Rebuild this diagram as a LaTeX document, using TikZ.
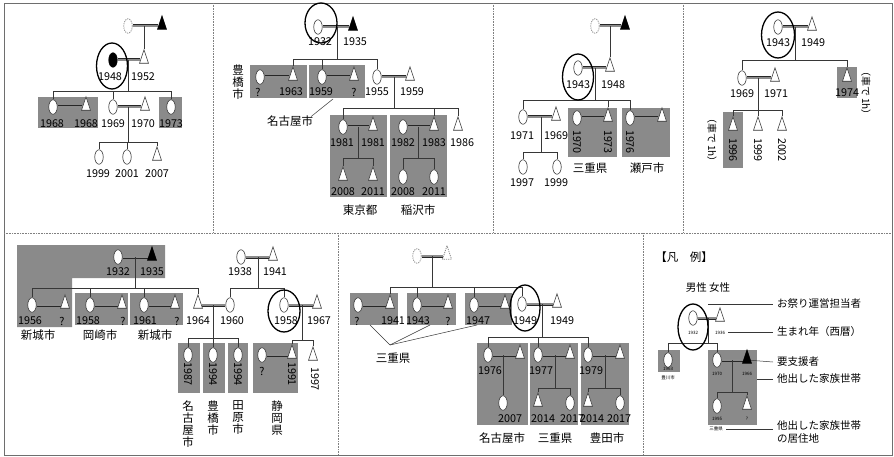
\documentclass[tikz,border=0pt]{standalone}
\usepackage{fontspec}
\setmainfont{Noto Sans CJK JP}
\usetikzlibrary{shapes.geometric}
\pgfdeclarelayer{boxlayer}
\pgfdeclarelayer{linelayer}
\pgfsetlayers{boxlayer,linelayer,main}
\definecolor{boxc}{RGB}{138,138,138}
\definecolor{linec}{RGB}{55,55,55}
\definecolor{framec}{RGB}{110,110,110}
\begin{document}
\begin{tikzpicture}[x=1pt,y=-1pt,
 fem/.style={ellipse,draw=linec,fill=white,line width=0.6pt,minimum width=8.5pt,minimum height=14.5pt,inner sep=0pt},
 femf/.style={fem,fill=black,draw=black},
 femd/.style={fem,draw=gray!90,dash pattern=on 1.2pt off 1pt,line width=0.8pt},
 mal/.style={isosceles triangle,shape border rotate=90,isosceles triangle stretches,minimum width=9pt,minimum height=13.5pt,inner sep=0pt,draw=linec,fill=white,line width=0.6pt},
 malf/.style={mal,fill=black,draw=black},
 mald/.style={mal,draw=gray!90,dash pattern=on 1.2pt off 1pt,line width=0.8pt},
 keyc/.style={ellipse,draw=black,line width=1.3pt,inner sep=0pt},
 yr/.style={font=\fontsize{10.8}{10.8}\selectfont,inner sep=0pt},
 ryr/.style={yr,rotate=-90},
 place/.style={font=\fontsize{11.5}{12}\selectfont,inner sep=0pt,align=center},
 tiny/.style={font=\fontsize{4.5}{5}\selectfont,inner sep=0pt},
 leg/.style={font=\fontsize{10.5}{12.5}\selectfont,inner sep=0pt,anchor=west,align=left},
 mar/.style={draw=black!85,line width=0.6pt,double=black!45,double distance=1.8pt},
 desc/.style={draw=linec,line width=0.6pt},
 ptr/.style={draw=linec,line width=0.5pt},
 divider/.style={draw=gray,densely dotted,line width=0.6pt}
]
\useasboundingbox (0,0) rectangle (894,457);

% ---------- background and gray boxes ----------
\begin{pgfonlayer}{boxlayer}
\fill[white] (0,0) rectangle (894,457);
\fill[boxc] (38,97) rectangle (98,128);
\fill[boxc] (159,97) rectangle (182,128);
\fill[boxc] (250,65) rectangle (307,98);
\fill[boxc] (309,65) rectangle (365,98);
\fill[boxc] (330,115) rectangle (387,197);
\fill[boxc] (390,115) rectangle (447,197);
\fill[boxc] (568,108) rectangle (617,157);
\fill[boxc] (622,108) rectangle (670,157);
\fill[boxc] (837,67) rectangle (857,98);
\fill[boxc] (723,112) rectangle (743,168);
\fill[boxc] (17,245) -- (165,245) -- (165,278) -- (72,278) -- (72,327) -- (17,327) -- cycle;
\fill[boxc] (75,293) rectangle (128,325);
\fill[boxc] (130,293) rectangle (183,325);
\fill[boxc] (253,343) rectangle (298,393);
\fill[boxc] (178,343) rectangle (200,393);
\fill[boxc] (203,343) rectangle (225,393);
\fill[boxc] (228,343) rectangle (248,393);
\fill[boxc] (350,293) rectangle (398,325);
\fill[boxc] (407,293) rectangle (456,325);
\fill[boxc] (465,293) rectangle (512,325);
\fill[boxc] (477,343) rectangle (528,425);
\fill[boxc] (530,343) rectangle (578,425);
\fill[boxc] (581,343) rectangle (629,425);
\fill[boxc] (658,350) rectangle (680,372);
\fill[boxc] (708,350) rectangle (757,425);
\end{pgfonlayer}

% frame and dividers
\draw[framec,line width=0.8pt] (4,3) rectangle (892,455);
\draw[divider] (213,3) -- (213,233);
\draw[divider] (493,3) -- (493,233);
\draw[divider] (683,3) -- (683,233);
\draw[divider] (4,233) -- (892,233);
\draw[divider] (338,233) -- (338,455);
\draw[divider] (643,233) -- (643,455);

% ================= Panel 1 =================
\node[femd] (p1gf) at (128,26) {};
\node[malf] (p1gm) at (162,26) {};
\node[femf] (p1a) at (113,60) {};
\node[mal] (p1b) at (144,60) {};
\node[keyc,minimum width=31pt,minimum height=46pt] (p1k) at (112,66) {};
\node[yr] (y1a) at (110,77) {1948};
\node[yr] (y1b) at (143,77) {1952};
\node[fem] (p1c1) at (53,107) {};
\node[mal] (p1c1h) at (86,107) {};
\node[fem] (p1c2) at (113,107) {};
\node[mal] (p1c2h) at (145,107) {};
\node[fem] (p1c3) at (171,107) {};
\node[yr] (y1c) at (52,124) {1968};
\node[yr] (y1d) at (86,124) {1968};
\node[yr] (y1e) at (113,124) {1969};
\node[yr] (y1f) at (143,124) {1970};
\node[yr] (y1g) at (171,124) {1973};
\node[fem] (p1d1) at (99,157) {};
\node[fem] (p1d2) at (127,157) {};
\node[mal] (p1d3) at (157,157) {};
\node[yr] (y1h) at (98,174) {1999};
\node[yr] (y1i) at (127,174) {2001};
\node[yr] (y1j) at (157,174) {2007};
\begin{pgfonlayer}{linelayer}
\draw[mar] (p1gf) -- (p1gm);
\coordinate (p1gx) at (144,26);
\draw[desc] (p1gx) -- (p1b);
\draw[mar] (p1a) -- (p1b);
\coordinate (p1m) at (128,60); \coordinate (p1s) at (128,91);
\draw[desc] (p1m) -- (p1s);
\draw[desc] (p1c1) |- (p1s); \draw[desc] (p1c2) |- (p1s); \draw[desc] (p1c3) |- (p1s);
\draw[mar] (p1c1) -- (p1c1h);
\draw[mar] (p1c2) -- (p1c2h);
\coordinate (p1m2) at (128,107); \coordinate (p1s2) at (128,142);
\draw[desc] (p1m2) -- (p1s2);
\draw[desc] (p1d1) |- (p1s2); \draw[desc] (p1d2) |- (p1s2); \draw[desc] (p1d3) |- (p1s2);
\end{pgfonlayer}

% ================= Panel 2 =================
\node[fem] (p2a) at (318,27) {};
\node[malf] (p2b) at (353,27) {};
\node[keyc,minimum width=32pt,minimum height=40pt] (p2k) at (321,23) {};
\node[yr] (y2a) at (320,42) {1932};
\node[yr] (y2b) at (355,42) {1935};
\node[fem] (p2c1w) at (260,77) {};
\node[mal] (p2c1) at (293,77) {};
\node[fem] (p2c2) at (322,77) {};
\node[mal] (p2c2h) at (354,77) {};
\node[fem] (p2c3) at (377,77) {};
\node[mal] (p2c3h) at (410,77) {};
\node[yr] (y2c) at (258,92) {?};
\node[yr] (y2d) at (291,92) {1963};
\node[yr] (y2e) at (321,92) {1959};
\node[yr] (y2f) at (354,92) {?};
\node[yr] (y2g) at (377,92) {1955};
\node[yr] (y2h) at (412,92) {1959};
\node[place] (t2a) at (238,82) {豊\\橋\\市};
\node[place] (t2b) at (290,121) {名古屋市};
\coordinate (t2bp) at (333,99);
\node[fem] (p2d1) at (343,127) {};
\node[mal] (p2d1h) at (373,127) {};
\node[fem] (p2d2w) at (403,127) {};
\node[mal] (p2d2) at (434,127) {};
\node[mal] (p2d3) at (458,127) {};
\node[yr] (y2i) at (342,143) {1981};
\node[yr] (y2j) at (373,143) {1981};
\node[yr] (y2k) at (403,143) {1982};
\node[yr] (y2l) at (434,143) {1983};
\node[yr] (y2m) at (462,143) {1986};
\node[mal] (p2e1) at (343,177) {};
\node[mal] (p2e2) at (373,177) {};
\node[fem] (p2e3) at (403,177) {};
\node[fem] (p2e4) at (434,177) {};
\node[yr] (y2n) at (343,192) {2008};
\node[yr] (y2o) at (373,192) {2011};
\node[yr] (y2p) at (403,192) {2008};
\node[yr] (y2q) at (434,192) {2011};
\node[place] (t2c) at (360,210) {東京都};
\node[place] (t2d) at (418,210) {稲沢市};
\begin{pgfonlayer}{linelayer}
\draw[mar] (p2a) -- (p2b);
\coordinate (p2m) at (337,27); \coordinate (p2s) at (337,59);
\draw[desc] (p2m) -- (p2s);
\draw[desc] (p2c1) |- (p2s); \draw[desc] (p2c2) |- (p2s); \draw[desc] (p2c3) |- (p2s);
\draw[mar] (p2c1w) -- (p2c1);
\draw[mar] (p2c2) -- (p2c2h);
\draw[mar] (p2c3) -- (p2c3h);
\draw[ptr] (t2b.north east) ++(-2,1) -- (t2bp);
\coordinate (p2m3) at (394,77); \coordinate (p2s3) at (394,108);
\draw[desc] (p2m3) -- (p2s3);
\draw[desc] (p2d1) |- (p2s3); \draw[desc] (p2d2) |- (p2s3); \draw[desc] (p2d3) |- (p2s3);
\draw[mar] (p2d1) -- (p2d1h);
\draw[mar] (p2d2w) -- (p2d2);
\coordinate (p2m4) at (358,127); \coordinate (p2s4) at (358,158);
\draw[desc] (p2m4) -- (p2s4);
\draw[desc] (p2e1) |- (p2s4); \draw[desc] (p2e2) |- (p2s4);
\coordinate (p2m5) at (418,127); \coordinate (p2s5) at (418,158);
\draw[desc] (p2m5) -- (p2s5);
\draw[desc] (p2e3) |- (p2s5); \draw[desc] (p2e4) |- (p2s5);
\end{pgfonlayer}

% ================= Panel 3 =================
\node[femd] (p3gf) at (595,26) {};
\node[malf] (p3gm) at (625,26) {};
\node[fem] (p3a) at (578,68) {};
\node[mal] (p3b) at (610,68) {};
\node[keyc,minimum width=31pt,minimum height=46pt] (p3k) at (578,77) {};
\node[yr] (y3a) at (578,85) {1943};
\node[yr] (y3b) at (613,85) {1948};
\node[fem] (p3c1) at (523,117) {};
\node[mal] (p3c1h) at (556,117) {};
\node[fem] (p3c2w) at (577,118) {};
\node[mal] (p3c2) at (608,118) {};
\node[fem] (p3c3) at (630,118) {};
\node[mal] (p3c3h) at (662,118) {};
\node[yr] (y3c) at (522,136) {1971};
\node[yr] (y3d) at (556,136) {1969};
\node[ryr] (y3e) at (577,142) {1970};
\node[ryr] (y3f) at (608,142) {1973};
\node[ryr] (y3g) at (630,142) {1976};
\node[fem] (p3d1) at (523,167) {};
\node[fem] (p3d2) at (557,167) {};
\node[yr] (y3h) at (522,183) {1997};
\node[yr] (y3i) at (556,183) {1999};
\node[place] (t3a) at (590,168) {三重県};
\node[place] (t3b) at (647,168) {瀬戸市};
\begin{pgfonlayer}{linelayer}
\draw[mar] (p3gf) -- (p3gm);
\coordinate (p3gx) at (610,26);
\draw[desc] (p3gx) -- (p3b);
\draw[mar] (p3a) -- (p3b);
\coordinate (p3m) at (595,68); \coordinate (p3s) at (595,100);
\draw[desc] (p3m) -- (p3s);
\draw[desc] (p3c1) |- (p3s); \draw[desc] (p3c2) |- (p3s); \draw[desc] (p3c3) |- (p3s);
\draw[mar] (p3c1) -- (p3c1h);
\draw[mar] (p3c2w) -- (p3c2);
\draw[mar] (p3c3) -- (p3c3h);
\coordinate (p3m1) at (541,117); \coordinate (p3s1) at (541,152);
\draw[desc] (p3m1) -- (p3s1);
\draw[desc] (p3d1) |- (p3s1); \draw[desc] (p3d2) |- (p3s1);
\end{pgfonlayer}

% ================= Panel 4 =================
\node[fem] (p4a) at (778,27) {};
\node[mal] (p4b) at (812,27) {};
\node[keyc,minimum width=33pt,minimum height=46pt] (p4k) at (778,35) {};
\node[yr] (y4a) at (778,43) {1943};
\node[yr] (y4b) at (813,43) {1949};
\node[fem] (p4c1) at (742,78) {};
\node[mal] (p4c1h) at (775,78) {};
\node[mal] (p4c2) at (847,78) {};
\node[yr] (y4c) at (742,94) {1969};
\node[yr] (y4d) at (776,94) {1971};
\node[yr] (y4e) at (847,93) {1974};
\node[place,rotate=-90,font=\fontsize{10}{10}\selectfont] (t4a) at (866,93) {（車で 1h）};
\node[mal] (p4d1) at (733,127) {};
\node[mal] (p4d2) at (758,127) {};
\node[mal] (p4d3) at (782,127) {};
\node[ryr] (y4f) at (733,150) {1996};
\node[ryr] (y4g) at (758,150) {1999};
\node[ryr] (y4h) at (782,150) {2002};
\node[place,rotate=-90,font=\fontsize{10}{10}\selectfont] (t4b) at (712,140) {（車で 1h）};
\begin{pgfonlayer}{linelayer}
\draw[mar] (p4a) -- (p4b);
\coordinate (p4m) at (795,27); \coordinate (p4s) at (795,60);
\draw[desc] (p4m) -- (p4s);
\draw[desc] (p4c1) |- (p4s); \draw[desc] (p4c2) |- (p4s);
\draw[mar] (p4c1) -- (p4c1h);
\coordinate (p4m1) at (758,78); \coordinate (p4s1) at (758,110);
\draw[desc] (p4m1) -- (p4s1);
\draw[desc] (p4d1) |- (p4s1); \draw[desc] (p4d2) |- (p4s1); \draw[desc] (p4d3) |- (p4s1);
\end{pgfonlayer}

% ================= Panel 5 (bottom left) =================
\node[fem] (p5a) at (118,257) {};
\node[malf] (p5b) at (152,257) {};
\node[yr] (y5a) at (118,272) {1932};
\node[yr] (y5b) at (152,272) {1935};
\node[fem] (p5pa) at (241,257) {};
\node[mal] (p5pb) at (273,257) {};
\node[yr] (y5c) at (240,272) {1938};
\node[yr] (y5d) at (275,272) {1941};
\node[fem] (p5c1) at (32,305) {};
\node[mal] (p5c1h) at (65,305) {};
\node[fem] (p5c2) at (90,305) {};
\node[mal] (p5c2h) at (122,305) {};
\node[fem] (p5c3) at (144,305) {};
\node[mal] (p5c3h) at (175,305) {};
\node[mal] (p5c4) at (198,305) {};
\node[fem] (p5c4w) at (230,305) {};
\node[fem] (p5e) at (284,305) {};
\node[mal] (p5eh) at (317,305) {};
\node[keyc,minimum width=32pt,minimum height=42pt] (p5k) at (284,311) {};
\node[yr] (y5e) at (30,321) {1956};
\node[yr] (y5f) at (62,321) {?};
\node[yr] (y5g) at (88,321) {1958};
\node[yr] (y5h) at (123,321) {?};
\node[yr] (y5i) at (145,321) {1961};
\node[yr] (y5j) at (177,321) {?};
\node[yr] (y5k) at (198,321) {1964};
\node[yr] (y5l) at (232,321) {1960};
\node[yr] (y5m) at (286,321) {1958};
\node[yr] (y5n) at (319,321) {1967};
\node[place] (t5a) at (38,335) {新城市};
\node[place] (t5b) at (100,335) {岡崎市};
\node[place] (t5c) at (155,335) {新城市};
\node[fem] (p5g1) at (188,355) {};
\node[fem] (p5g2) at (213,355) {};
\node[fem] (p5g3) at (238,355) {};
\node[ryr] (y5o) at (188,374) {1987};
\node[ryr] (y5p) at (213,374) {1994};
\node[ryr] (y5q) at (238,374) {1994};
\node[fem] (p5f1w) at (262,355) {};
\node[mal] (p5f1) at (292,355) {};
\node[mal] (p5f2) at (313,357) {};
\node[yr] (y5r) at (262,371) {?};
\node[ryr] (y5s) at (292,374) {1991};
\node[ryr] (y5t) at (315,379) {1997};
\node[place] (t5d) at (188,424) {名\\古\\屋\\市};
\node[place] (t5e) at (213,418) {豊\\橋\\市};
\node[place] (t5f) at (238,418) {田\\原\\市};
\node[place] (t5g) at (277,418) {静\\岡\\県};
\begin{pgfonlayer}{linelayer}
\draw[mar] (p5a) -- (p5b);
\draw[mar] (p5pa) -- (p5pb);
\coordinate (p5m) at (135,257); \coordinate (p5s) at (135,288);
\draw[desc] (p5m) -- (p5s);
\draw[desc] (p5c1) |- (p5s); \draw[desc] (p5c2) |- (p5s); \draw[desc] (p5c3) |- (p5s); \draw[desc] (p5c4) |- (p5s);
\coordinate (p5pm) at (258,257); \coordinate (p5ps) at (258,288);
\draw[desc] (p5pm) -- (p5ps);
\draw[desc] (p5c4w) |- (p5ps); \draw[desc] (p5e) |- (p5ps);
\draw[mar] (p5c1) -- (p5c1h);
\draw[mar] (p5c2) -- (p5c2h);
\draw[mar] (p5c3) -- (p5c3h);
\draw[mar] (p5c4) -- (p5c4w);
\draw[mar] (p5e) -- (p5eh);
\coordinate (p5cm) at (213,305); \coordinate (p5cs) at (213,338);
\draw[desc] (p5cm) -- (p5cs);
\draw[desc] (p5g1) |- (p5cs); \draw[desc] (p5g2) |- (p5cs); \draw[desc] (p5g3) |- (p5cs);
\coordinate (p5em) at (302,305); \coordinate (p5es) at (302,340);
\draw[desc] (p5em) -- (p5es);
\draw[desc] (p5f1) |- (p5es); \draw[desc] (p5f2) |- (p5es);
\draw[mar] (p5f1w) -- (p5f1);
\end{pgfonlayer}

% ================= Panel 6 (bottom middle) =================
\node[femd] (p6gf) at (417,256) {};
\node[mald] (p6gm) at (447,256) {};
\node[fem] (p6c1w) at (358,305) {};
\node[mal] (p6c1) at (390,305) {};
\node[fem] (p6c2) at (417,305) {};
\node[mal] (p6c2h) at (448,305) {};
\node[fem] (p6c3) at (474,305) {};
\node[mal] (p6c3h) at (505,305) {};
\node[fem] (p6c4) at (522,304) {};
\node[mal] (p6c4h) at (557,304) {};
\node[keyc,minimum width=30pt,minimum height=46pt] (p6k) at (525,308) {};
\node[yr] (y6a) at (357,321) {?};
\node[yr] (y6b) at (393,321) {1941};
\node[yr] (y6c) at (418,321) {1943};
\node[yr] (y6d) at (448,321) {?};
\node[yr] (y6e) at (478,321) {1947};
\node[yr] (y6f) at (525,321) {1949};
\node[yr] (y6g) at (562,321) {1949};
\node[place] (t6a) at (393,358) {三重県};
\coordinate (t6p1) at (370,325);
\coordinate (t6p2) at (430,325);
\coordinate (t6p3) at (477,325);
\coordinate (t6o) at (390,345);
\node[fem] (p6d1) at (488,355) {};
\node[mal] (p6d1h) at (520,355) {};
\node[fem] (p6d2) at (538,355) {};
\node[mal] (p6d2h) at (570,355) {};
\node[fem] (p6d3) at (588,355) {};
\node[mal] (p6d3h) at (620,355) {};
\node[yr] (y6h) at (490,371) {1976};
\node[yr] (y6i) at (541,371) {1977};
\node[yr] (y6j) at (591,371) {1979};
\node[fem] (p6e1) at (503,403) {};
\node[mal] (p6e2) at (538,403) {};
\node[fem] (p6e3) at (570,403) {};
\node[mal] (p6e4) at (588,403) {};
\node[fem] (p6e5) at (620,403) {};
\node[yr] (y6k) at (510,419) {2007};
\node[yr] (y6l) at (543,419) {2014};
\node[yr] (y6m) at (572,419) {2017};
\node[yr] (y6n) at (592,419) {2014};
\node[yr] (y6o) at (619,419) {2017};
\node[place] (t6b) at (502,438) {名古屋市};
\node[place] (t6c) at (555,438) {三重県};
\node[place] (t6d) at (607,438) {豊田市};
\begin{pgfonlayer}{linelayer}
\draw[mar] (p6gf) -- (p6gm);
\coordinate (p6gx) at (432,256); \coordinate (p6s) at (432,287);
\draw[desc] (p6gx) -- (p6s);
\draw[desc] (p6c1) |- (p6s); \draw[desc] (p6c2) |- (p6s); \draw[desc] (p6c3) |- (p6s); \draw[desc] (p6c4) |- (p6s);
\draw[mar] (p6c1w) -- (p6c1);
\draw[mar] (p6c2) -- (p6c2h);
\draw[mar] (p6c3) -- (p6c3h);
\draw[mar] (p6c4) -- (p6c4h);
\draw[ptr] (t6o) -- (t6p1); \draw[ptr] (t6o) -- (t6p2); \draw[ptr] (t6o) -- (t6p3);
\coordinate (p6m) at (542,304); \coordinate (p6s2) at (542,337);
\draw[desc] (p6m) -- (p6s2);
\draw[desc] (p6d1) |- (p6s2); \draw[desc] (p6d2) |- (p6s2); \draw[desc] (p6d3) |- (p6s2);
\draw[mar] (p6d1) -- (p6d1h);
\draw[mar] (p6d2) -- (p6d2h);
\draw[mar] (p6d3) -- (p6d3h);
\coordinate (p6m1) at (503,355);
\draw[desc] (p6m1) -- (p6e1);
\coordinate (p6m2) at (555,355); \coordinate (p6s3) at (555,388);
\draw[desc] (p6m2) -- (p6s3);
\draw[desc] (p6e2) |- (p6s3); \draw[desc] (p6e3) |- (p6s3);
\coordinate (p6m3) at (605,355); \coordinate (p6s4) at (605,388);
\draw[desc] (p6m3) -- (p6s4);
\draw[desc] (p6e4) |- (p6s4); \draw[desc] (p6e5) |- (p6s4);
\end{pgfonlayer}

% ================= Legend =================
\node[font=\fontsize{11.5}{12}\selectfont,inner sep=0pt] (lt) at (684,257) {【凡\quad 例】};
\node[font=\fontsize{10.5}{12}\selectfont,inner sep=0pt] (lmf) at (708,288) {男性 女性};
\node[fem] (p7a) at (693,318) {};
\node[mal] (p7b) at (720,318) {};
\node[keyc,minimum width=30pt,minimum height=46pt] (p7k) at (693,327) {};
\node[tiny] (y7a) at (693,333) {1932};
\node[tiny] (y7b) at (720,333) {1936};
\node[fem] (p7c1) at (668,360) {};
\node[tiny] (y7c) at (668,369) {1963};
\node[tiny] (t7a) at (668,378) {豊川市};
\node[fem] (p7c2) at (717,360) {};
\node[malf] (p7c2h) at (747,360) {};
\node[tiny] (y7d) at (717,374) {1970};
\node[tiny] (y7e) at (747,374) {1966};
\node[fem] (p7d1) at (717,406) {};
\node[mal] (p7d2) at (747,406) {};
\node[tiny] (y7f) at (717,419) {1995};
\node[tiny] (y7g) at (747,419) {?};
\node[tiny] (t7b) at (716,429) {三重県};
\node[leg] (l1) at (777,304) {お祭り運営担当者};
\node[leg] (l2) at (777,332) {生まれ年（西暦）};
\node[leg] (l3) at (777,362) {要支援者};
\node[leg] (l4) at (777,379) {他出した家族世帯};
\node[leg] (l5) at (777,432) {他出した家族世帯\\の居住地};
\coordinate (q1) at (708,304);
\coordinate (q2) at (728,332);
\coordinate (q4) at (757,379);
\coordinate (q5) at (726,429);
\begin{pgfonlayer}{linelayer}
\draw[mar] (p7a) -- (p7b);
\coordinate (p7m) at (708,318); \coordinate (p7s) at (708,343);
\draw[desc] (p7m) -- (p7s);
\draw[desc] (p7c1) |- (p7s); \draw[desc] (p7c2) |- (p7s);
\draw[mar] (p7c2) -- (p7c2h);
\coordinate (p7m2) at (732,360); \coordinate (p7s2) at (732,392);
\draw[desc] (p7m2) -- (p7s2);
\draw[desc] (p7d1) |- (p7s2); \draw[desc] (p7d2) |- (p7s2);
\draw[ptr] (q1) -- (l1.west -| 773,0);
\draw[ptr] (q2) -- (l2.west -| 773,0);
\draw[ptr] (p7c2h) -- (l3.west -| 773,0);
\draw[ptr] (q4) -- (l4.west -| 773,0);
\draw[ptr] (q5) -- (773,429);
\end{pgfonlayer}
\end{tikzpicture}
\end{document}
